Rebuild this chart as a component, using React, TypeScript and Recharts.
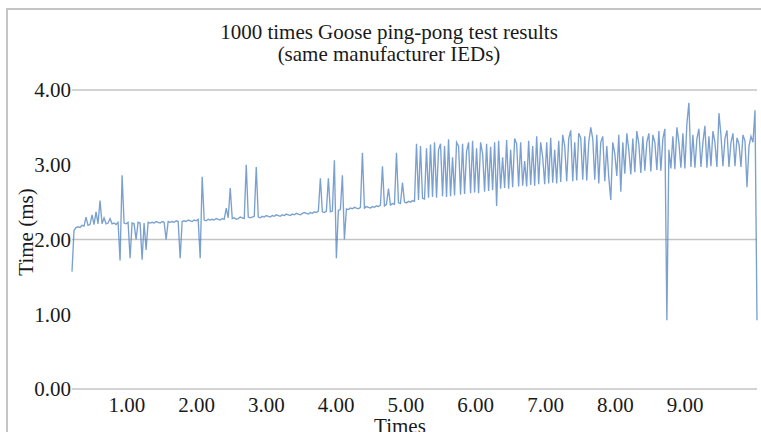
import React from 'react';
import { LineChart, Line, XAxis, YAxis, ReferenceLine } from 'recharts';

// round-trip time (ms) left to right
const pingTimesSteady = [
  1.57, 2.12, 2.16, 2.17, 2.16, 2.19, 2.18, 2.30, 2.19, 2.20,
  2.33, 2.20, 2.37, 2.21, 2.52, 2.21, 2.29, 2.21, 2.22, 2.28,
  2.21, 2.22, 2.20, 2.23, 1.72, 2.86, 2.22, 2.21, 2.23, 1.75,
  2.22, 2.21, 2.00, 2.23, 2.22, 1.73, 2.22, 1.86, 2.23, 2.22,
  2.23, 2.22, 2.24, 2.23, 2.22, 2.24, 2.23, 2.00, 2.24, 2.23,
  2.24, 2.23, 2.25, 2.24, 1.75, 2.24, 2.25, 2.24, 2.26, 2.25,
  2.24, 2.26, 2.25, 2.27, 1.75, 2.84, 2.26, 2.25, 2.27, 2.26,
  2.27, 2.26, 2.28, 2.27, 2.26, 2.28, 2.27, 2.42, 2.29, 2.69,
  2.28, 2.29, 2.27, 2.28, 2.30, 2.29, 2.28, 3.00, 2.30, 2.29,
  2.30, 2.31, 2.97, 2.30, 2.29, 2.31, 2.30, 2.32, 2.31, 2.30,
  2.32, 2.31, 2.33, 2.32, 2.31, 2.33, 2.32, 2.34, 2.33, 2.32,
  2.34, 2.33, 2.35, 2.34, 2.33, 2.35, 2.36, 2.35, 2.34, 2.36,
  2.35, 2.37, 2.36, 2.38, 2.82, 2.37, 2.36, 2.38, 2.82, 2.37,
  2.38, 3.06, 1.75, 2.39, 2.40, 2.86, 2.00, 2.41, 2.40, 2.42,
  2.41, 2.43, 2.42, 2.41, 2.43, 3.16, 2.42, 2.44, 2.43, 2.42,
  2.44, 2.43, 2.45, 2.44, 2.46, 2.98, 2.45, 2.47, 2.68, 2.46,
  2.48, 2.47, 3.16, 2.49, 2.48, 2.76, 2.50, 2.49, 2.51, 2.50,
];

const pingTimesNoisy = [
  2.52, 2.51, 3.28, 2.53, 3.25, 2.55, 2.54, 3.22, 2.56, 3.27,
  2.57, 3.30, 2.56, 3.20, 3.28, 2.58, 3.25, 2.57, 3.34, 2.58,
  3.10, 2.59, 3.30, 3.25, 2.60, 3.28, 2.61, 3.18, 3.30, 2.62,
  3.32, 2.63, 3.22, 2.62, 3.30, 3.15, 2.64, 3.28, 2.65, 3.24,
  2.66, 3.30, 2.45, 3.32, 2.68, 3.10, 2.69, 3.33, 2.68, 3.20,
  2.70, 3.35, 3.28, 2.71, 3.30, 2.72, 3.05, 2.71, 3.32, 2.73,
  3.25, 2.72, 3.38, 2.74, 3.30, 3.10, 2.74, 3.30, 2.75, 3.36,
  2.76, 3.20, 2.75, 3.32, 2.77, 3.40, 3.25, 2.78, 3.35, 3.46,
  2.78, 3.30, 2.79, 3.42, 3.36, 2.80, 3.38, 2.79, 3.30, 3.50,
  3.35, 2.80, 3.40, 2.75, 3.30, 3.38, 2.78, 3.25, 2.83, 2.53,
  3.30, 3.15, 2.85, 3.40, 2.64, 3.30, 2.88, 3.42, 3.20, 2.87,
  3.35, 2.90, 3.45, 3.28, 2.89, 3.38, 2.92, 3.30, 3.42, 2.91,
  3.40, 3.30, 2.93, 3.45, 2.92, 3.35, 3.48, 0.92, 3.20, 2.95,
  3.38, 2.94, 3.50, 3.30, 2.96, 3.42, 2.95, 3.55, 3.83, 2.97,
  3.40, 2.96, 3.35, 3.48, 2.97, 3.30, 3.52, 2.96, 3.38, 2.98,
  3.45, 3.30, 2.97, 3.69, 3.40, 2.98, 3.35, 3.46, 2.97, 3.30,
  3.42, 2.98, 3.36, 3.28, 2.97, 3.40, 3.32, 2.70, 3.25, 3.38,
  3.30, 3.73, 0.92,
];

const timeTicks = [0, 1, 2, 3, 4];
const gridValues = [0, 2, 4];
// category labels under the plot and the run-label range spanned by the plot width
const runLabels = [1, 2, 3, 4, 5, 6, 7, 8, 9];
const runRange = [0.215, 10.03];

const pingTimes = [...pingTimesSteady, ...pingTimesNoisy];
const data = pingTimes.map((v, i) => ({ i, v }));
const last = data.length - 1;

const toIndex = (r: number) => ((r - runRange[0]) / (runRange[1] - runRange[0])) * last;
const toRun = (i: number) => runRange[0] + (i / last) * (runRange[1] - runRange[0]);
const xTicks = runLabels.map(toIndex);

const font = '"Liberation Serif", "Times New Roman", serif';
const tickStyle = { fill: '#1a1a1a', fontSize: 21, fontFamily: font };

const App: React.FC = () => {
  return (
    <div
      style={{
        position: 'absolute',
        left: 0,
        top: 0,
        width: 761,
        height: 432,
        overflow: 'hidden',
        background: '#fff',
        fontFamily: font,
        color: '#1a1a1a',
      }}
    >
      <div
        style={{
          position: 'absolute',
          left: 6,
          top: 8,
          width: 800,
          height: 500,
          borderLeft: '2px solid #c4c4c4',
          borderTop: '2px solid #c4c4c4',
        }}
      />
      <LineChart
        width={761}
        height={432}
        data={data}
        margin={{ top: 90, right: 4, bottom: 0, left: 0 }}
        style={{ position: 'absolute', left: 0, top: 0 }}
      >
        <XAxis
          dataKey="i"
          type="number"
          domain={[0, last]}
          ticks={xTicks}
          interval={0}
          axisLine={false}
          tickLine={false}
          tickSize={0}
          tickMargin={8}
          height={43}
          tick={tickStyle}
          tickFormatter={(i: number) => toRun(i).toFixed(2)}
        />
        <YAxis
          type="number"
          domain={[0, 4]}
          ticks={timeTicks}
          interval={0}
          width={72}
          axisLine={false}
          tickLine={false}
          tickSize={0}
          tickMargin={1}
          tick={tickStyle}
          tickFormatter={(v: number) => v.toFixed(2)}
        />
        {gridValues.map((g) => (
          <ReferenceLine key={g} y={g} stroke="#c4c4c4" strokeWidth={1.5} />
        ))}
        <Line
          type="linear"
          dataKey="v"
          stroke="#5585c2"
          strokeOpacity={0.78}
          strokeWidth={1.35}
          dot={false}
          isAnimationActive={false}
        />
      </LineChart>
      <div
        style={{
          position: 'absolute',
          left: 0,
          width: 778,
          top: 21,
          textAlign: 'center',
          fontSize: 21,
          lineHeight: '22px',
        }}
      >
        1000 times Goose ping-pong test results
        <br />
        (same manufacturer IEDs)
      </div>
      <div
        style={{
          position: 'absolute',
          left: 26,
          top: 232,
          fontSize: 21,
          lineHeight: '21px',
          whiteSpace: 'nowrap',
          transform: 'translate(-50%, -50%) rotate(-90deg)',
        }}
      >
        Time (ms)
      </div>
      <div
        style={{
          position: 'absolute',
          left: 0,
          width: 800,
          top: 416,
          textAlign: 'center',
          fontSize: 21,
          lineHeight: '21px',
        }}
      >
        Times
      </div>
    </div>
  );
};

export default App;
